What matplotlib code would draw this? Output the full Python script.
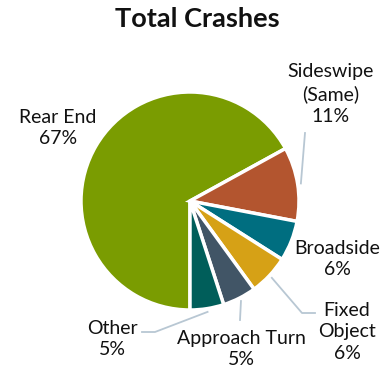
import numpy as np
import matplotlib
matplotlib.use("Agg")
import matplotlib.pyplot as plt

# Crash types, clockwise from the bottom of the pie
categories = ["Rear End", "Sideswipe\n(Same)", "Broadside", "Fixed\nObject",
              "Approach Turn", "Other"]
shares = [67, 11, 6, 6, 5, 5]
colors = ["#7a9c01", "#b3552f", "#006e80", "#d6a116", "#415566", "#005e5a"]

# label centres (pixels from top-left) and leader line bends
label_pos = [(58, 128), (331, 94), (337, 259), (347, 332), (241, 349), (112, 339)]
leader_path = [None, [(305, 133)], None, [(302, 313), (315, 313)],
               [(240, 320)], [(155, 332), (142, 332)]]

W, H = 391, 373
cx, cy, radius = 190, 201, 109
line_color = "#b8c7d3"

plt.rcParams['font.family'] = ['Lato', 'DejaVu Sans']

fig = plt.figure(figsize=(W / 100, H / 100), dpi=100)
ax = fig.add_axes([0, 0, 1, 1])

wedges, _ = ax.pie(shares, colors=colors, startangle=-90, counterclock=False,
                   center=(cx, H - cy), radius=radius, frame=True,
                   wedgeprops=dict(edgecolor='white', linewidth=2.5))
ax.set_xlim(0, W)
ax.set_ylim(0, H)
ax.set_aspect('equal')
ax.axis('off')

for wedge, label, share, pos, path in zip(wedges, categories, shares,
                                          label_pos, leader_path):
    ax.text(pos[0], H - pos[1], f"{label}\n{share}%", ha='center', va='center',
            fontsize=14, color='#111111', linespacing=1.32)
    if path:
        mid = np.deg2rad((wedge.theta1 + wedge.theta2) / 2)
        xs = [cx + radius * 1.03 * np.cos(mid)] + [p[0] for p in path]
        ys = [H - cy + radius * 1.03 * np.sin(mid)] + [H - p[1] for p in path]
        ax.plot(xs, ys, color=line_color, lw=1.3)

fig.text(197 / W, 1 - 19 / H, "Total Crashes", ha='center', va='center',
         fontsize=19.5, fontweight='bold', color='#111111')

fig.savefig("out.png", dpi=100)
